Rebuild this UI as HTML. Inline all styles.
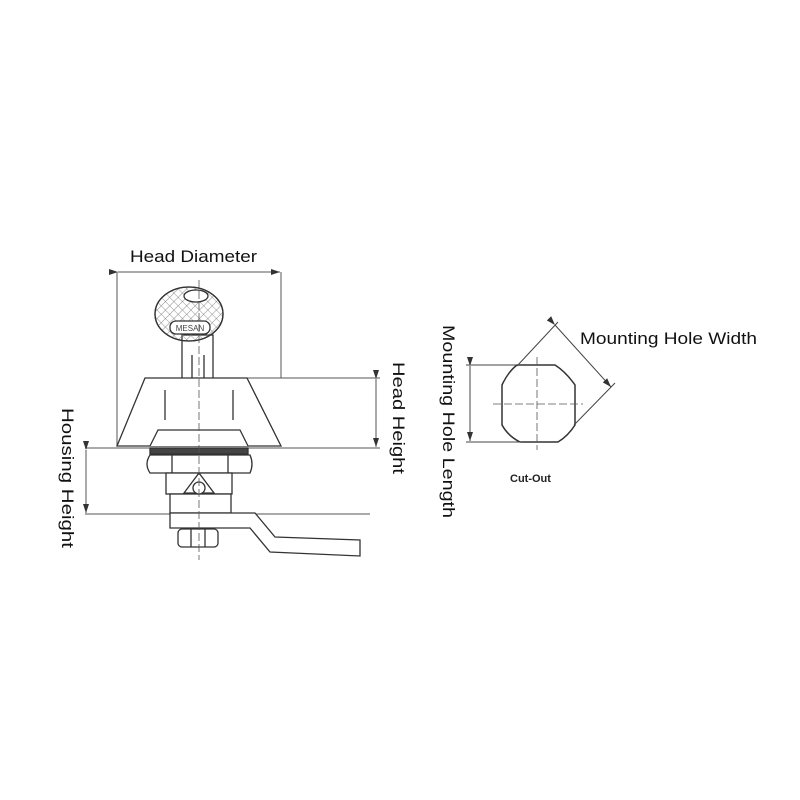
<!DOCTYPE html>
<html><head><meta charset="utf-8"><style>body{margin:0;background:#fff}svg{display:block}</style></head>
<body>
<svg width="800" height="800" viewBox="0 0 800 800" xmlns="http://www.w3.org/2000/svg" font-family="'Liberation Sans', sans-serif">
<defs>
<marker id="a" markerWidth="10" markerHeight="8" refX="9" refY="4" orient="auto" markerUnits="userSpaceOnUse"><path d="M0,1 L9,4 L0,7 z" fill="#333"/></marker>
<pattern id="h" width="6" height="6" patternUnits="userSpaceOnUse" patternTransform="rotate(45)"><path d="M0,0 L0,6 M0,0 L6,0" stroke="#777" stroke-width="0.8"/></pattern>
</defs>
<g stroke="#555" stroke-width="1" fill="none">
<line x1="117" y1="272" x2="117" y2="446"/><line x1="281" y1="272" x2="281" y2="378"/>
<line x1="118" y1="272" x2="280" y2="272" marker-start="url(#a)" marker-end="url(#a)"/>
<line x1="247" y1="378" x2="380" y2="378"/><line x1="85" y1="448" x2="380" y2="448"/>
<line x1="376" y1="379" x2="376" y2="447" marker-start="url(#a)" marker-end="url(#a)"/>
<line x1="85" y1="514" x2="370" y2="514"/>
<line x1="86" y1="450" x2="86" y2="513" marker-start="url(#a)" marker-end="url(#a)"/>
</g>
<g stroke="#333" stroke-width="1.3" fill="#fff">
<rect x="182" y="335" width="31" height="45"/>
<line x1="192" y1="355" x2="192" y2="378"/><line x1="204" y1="355" x2="204" y2="378"/>
<ellipse cx="189" cy="314" rx="34" ry="27" fill="url(#h)"/>
<ellipse cx="189" cy="314" rx="34" ry="27" fill="none"/>
<ellipse cx="196" cy="296" rx="12" ry="6"/>
<rect x="170" y="321" width="40" height="13" rx="6"/>
<path d="M145,378 L247,378 L281,446 L117,446 Z"/>
<line x1="165" y1="390" x2="165" y2="420"/><line x1="233" y1="390" x2="233" y2="420"/>
<path d="M150,446 L158,430 L240,430 L248,446"/>
<rect x="150" y="448" width="98" height="6" fill="#444"/>
<path d="M150,455 L250,455 Q254,464 250,473 L150,473 Q144,464 150,455 Z"/>
<line x1="172" y1="455" x2="172" y2="473"/><line x1="228" y1="455" x2="228" y2="473"/>
<rect x="166" y="473" width="66" height="21"/>
<rect x="170" y="494" width="61" height="19"/>
<path d="M184,493 L199,473 L214,493 Z"/>
<circle cx="199" cy="488" r="6"/>
<path d="M170,513 L255,513 L275,537 L360,540 L360,556 L270,552 L250,528 L170,528 Z"/>
<rect x="178" y="529" width="40" height="18" rx="4"/>
<line x1="191" y1="529" x2="191" y2="547"/><line x1="205" y1="529" x2="205" y2="547"/>
</g>
<text x="190" y="331" font-size="8" fill="#444" text-anchor="middle">MESAN</text>
<line x1="199" y1="280" x2="199" y2="560" stroke="#555" stroke-width="0.8" stroke-dasharray="8,3"/>
<text x="130" y="262" font-size="17" fill="#111" textLength="127" lengthAdjust="spacingAndGlyphs">Head Diameter</text>
<text transform="translate(393,362) rotate(90)" font-size="17" fill="#111" textLength="112" lengthAdjust="spacingAndGlyphs">Head Height</text>
<text transform="translate(62,408) rotate(90)" font-size="17" fill="#111" textLength="140" lengthAdjust="spacingAndGlyphs">Housing Height</text>
<path d="M517,365 L555,365 Q566,372 575,385 L575,425 Q568,436 558,442 L520,442 Q508,436 502,425 L502,385 Q508,372 517,365 Z" fill="none" stroke="#333" stroke-width="1.5"/>
<g stroke="#555" stroke-width="0.8" stroke-dasharray="8,3"><line x1="537" y1="357" x2="537" y2="450"/><line x1="493" y1="404" x2="583" y2="404"/></g>
<g stroke="#444" stroke-width="1" fill="none">
<line x1="466" y1="365" x2="520" y2="365"/><line x1="466" y1="442" x2="522" y2="442"/>
<line x1="470" y1="366" x2="470" y2="441" marker-start="url(#a)" marker-end="url(#a)"/>
<line x1="517" y1="366" x2="558" y2="322"/><line x1="574" y1="425" x2="615" y2="383"/>
<line x1="555" y1="325" x2="611" y2="387" marker-start="url(#a)" marker-end="url(#a)"/>
</g>
<text x="580" y="344" font-size="17" fill="#111" textLength="177" lengthAdjust="spacingAndGlyphs">Mounting Hole Width</text>
<text transform="translate(443,325) rotate(90)" font-size="17" fill="#111" textLength="193" lengthAdjust="spacingAndGlyphs">Mounting Hole Length</text>
<text x="510" y="482" font-size="11" font-weight="bold" fill="#222">Cut-Out</text>
</svg>
</body></html>
